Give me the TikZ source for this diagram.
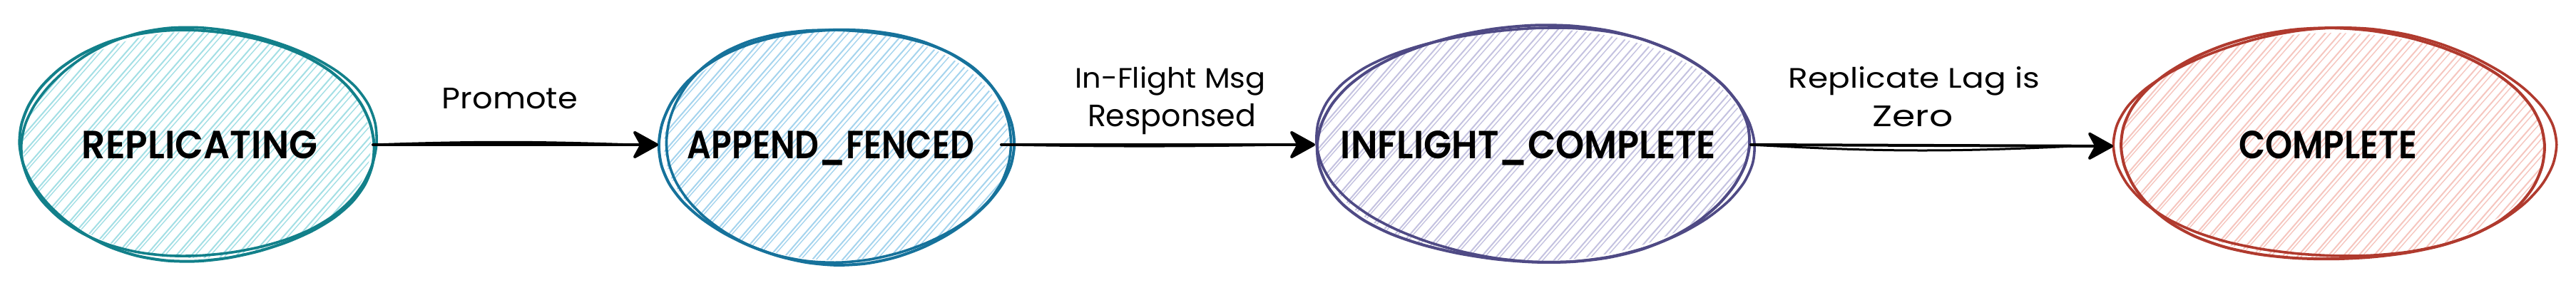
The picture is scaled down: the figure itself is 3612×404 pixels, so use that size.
\documentclass[tikz,border=0pt]{standalone}
\usepackage{fontspec}
\setmainfont{Poppins}
\IfFontExistsTF{Poppins SemiBold}{\newfontfamily\statefont{Poppins SemiBold}}{\newfontfamily\statefont{Poppins}[FakeBold=1.5]}
\usetikzlibrary{arrows.meta,shapes.geometric}
\definecolor{cAs}{HTML}{12808A}\definecolor{cAf}{HTML}{A3DFE5}
\definecolor{cBs}{HTML}{16729B}\definecolor{cBf}{HTML}{A5D4EE}
\definecolor{cCs}{HTML}{4F4A85}\definecolor{cCf}{HTML}{C4C2E0}
\definecolor{cDs}{HTML}{B03A2E}\definecolor{cDf}{HTML}{F6C6BF}
% cx cy rx ry fill
\newcommand\hatchell[5]{%
  \begin{scope}
    \clip (#1,#2) ellipse [x radius=#3-3, y radius=#4-3];
    \foreach \k in {-18,...,18}{
      \draw[#5, line width=2pt] ({#1+\k*12.08-275.5},{#2+\k*10.5+317.1}) -- ++(551,-634);
      \draw[#5, line width=1.4pt] ({#1+\k*12.08-272.5},{#2+\k*10.5+317.1}) -- ++(558,-634);
    }
  \end{scope}}
% cx cy rx ry stroke phase
\newcommand\sketchring[6]{%
  \draw[#5, line width=4pt, line join=round]
    plot[smooth cycle, samples=36, domain=0:350, variable=\t]
    ({#1+#3*(1+0.018*sin(2*\t+#6))*cos(\t)}, {#2+#4*(1+0.025*cos(3*\t+#6))*sin(\t)});
  \draw[#5, line width=3.6pt, line join=round]
    plot[smooth cycle, samples=36, domain=0:350, variable=\t]
    ({#1+3+(#3+2)*(1+0.022*cos(2*\t+#6+70))*cos(\t)}, {#2-2+(#4-2)*(1+0.03*sin(3*\t+#6+40))*sin(\t)});
}
\tikzset{
  statebox/.style={ellipse, draw=none, inner sep=0pt, outer sep=0pt},
  txt/.style={inner sep=0pt, outer sep=0pt, anchor=base, text=black},
  arr/.style={line width=4pt, line cap=round, -{Stealth[length=40pt, width=44pt, inset=12pt, round]}},
  arrb/.style={line width=3pt, line cap=round},
}
\begin{document}
\begin{tikzpicture}[x=1pt, y=-1pt]
\useasboundingbox (0,0) rectangle (3612,404);
\fill[white] (0,0) rectangle (3612,404);

% states
\node[statebox, minimum width=494pt, minimum height=324pt] (rep) at (276,203) {};
\node[statebox, minimum width=490pt, minimum height=330pt] (af) at (1173,203) {};
\node[statebox, minimum width=610pt, minimum height=332pt] (ifc) at (2150,203) {};
\node[statebox, minimum width=604pt, minimum height=324pt] (cmp) at (3271,205) {};

\hatchell{276}{203}{247}{162}{cAf}
\hatchell{1173}{203}{245}{165}{cBf}
\hatchell{2150}{203}{305}{166}{cCf}
\hatchell{3271}{205}{302}{162}{cDf}

\sketchring{276}{203}{247}{162}{cAs}{20}
\sketchring{1173}{203}{245}{165}{cBs}{110}
\sketchring{2150}{203}{305}{166}{cCs}{200}
\sketchring{3271}{205}{302}{162}{cDs}{290}

\node[txt] (repT) at (280,222) {\resizebox{330pt}{39pt}{\statefont REPLICATING}};
\node[txt] (afT) at (1165,222) {\resizebox{402pt}{39pt}{\statefont APPEND\_FENCED}};
\node[txt] (ifcT) at (2143,222) {\resizebox{526pt}{39pt}{\statefont INFLIGHT\_COMPLETE}};
\node[txt] (cmpT) at (3264,222) {\resizebox{250pt}{39pt}{\statefont COMPLETE}};

% connectors
\draw[arrb] (rep.east) to[bend left=2] ([xshift=-40pt]af.west);
\draw[arr, shorten >=5pt] (rep.east) -- (af.west);

\draw[arrb] ([xshift=-14pt]af.east) to[bend right=1] ([xshift=-40pt]ifc.west);
\draw[arr, shorten >=1pt, shorten <=-14pt] (af.east) -- (ifc.west);

\draw[arrb] (ifc.east) to[bend right=3] ([xshift=-60pt]cmp.west);
\draw[arr, shorten >=6pt] (ifc.east) -- (cmp.west);

% edge labels
\node[txt] (l1) at (715,152) {\resizebox{190pt}{29pt}{Promote}};
\node[txt] (l2a) at (1641,123) {\resizebox{267pt}{30pt}{In-Flight Msg}};
\node[txt] (l2b) at (1643,177) {\resizebox{236pt}{32pt}{Responsed}};
\node[txt] (l3a) at (2684,123) {\resizebox{352pt}{30pt}{Replicate Lag is}};
\node[txt] (l3b) at (2682,177) {\resizebox{113pt}{29pt}{Zero}};
\end{tikzpicture}
\end{document}
